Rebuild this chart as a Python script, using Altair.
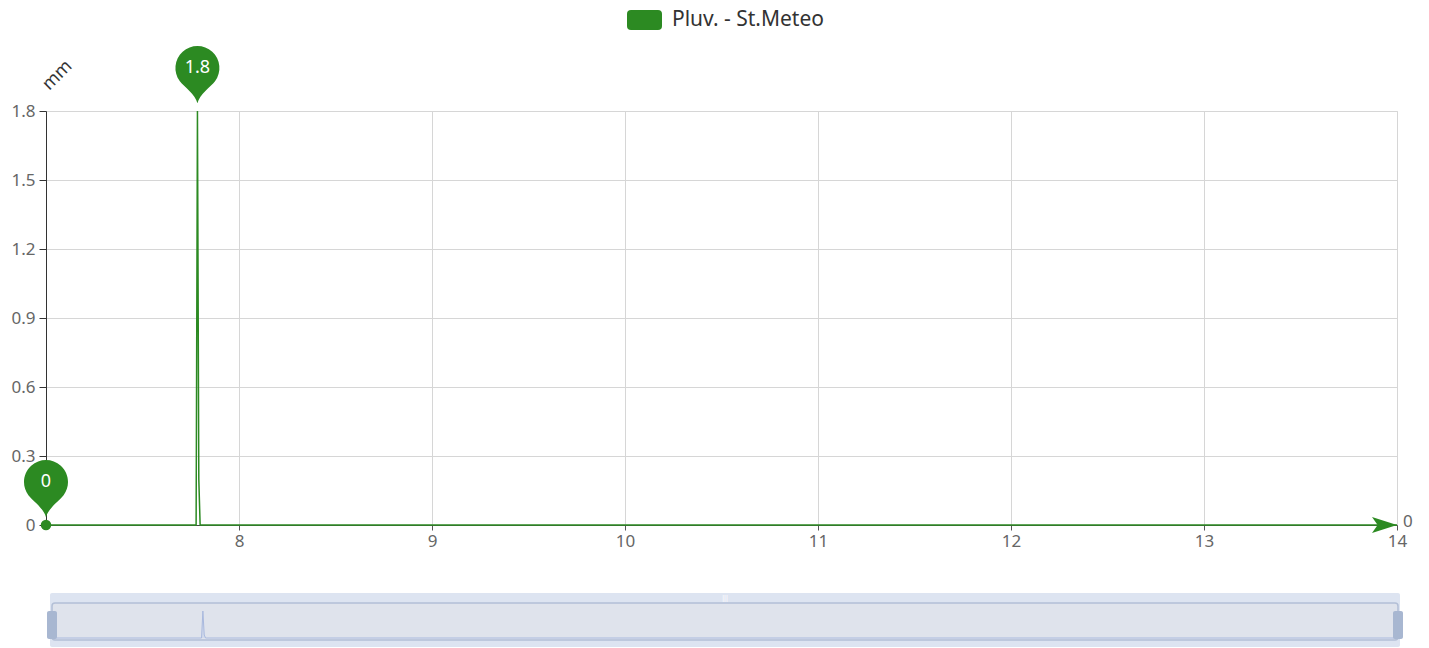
import altair as alt
import pandas as pd

# ---- data ----
times = [7.0, 7.7778, 7.7847, 7.7917, 7.7986, 14.0]
values = [0.0, 0.0, 1.8, 0.2, 0.0, 0.0]
series_name = "Pluv. - St.Meteo"
x_ticks = [8, 9, 10, 11, 12, 13, 14]
y_ticks = [0, 0.3, 0.6, 0.9, 1.2, 1.5, 1.8]
y_unit = "mm"

GREEN = "#2c8a22"
FONT = "Noto Sans"
W, H = 1351, 414

df = pd.DataFrame({"t": times, "v": values, "series": series_name})
imax = values.index(max(values))
pins = pd.DataFrame({
    "t": [times[imax], times[0]],
    "v": [values[imax], values[0]],
    "series": [series_name, series_name],
})
first = df.iloc[[0]]
last = df.iloc[[-1]]
one = pd.DataFrame({"a": [0]})

xs = alt.Scale(domain=[7, 14], nice=False, zero=False)
ys = alt.Scale(domain=[0, 1.8], nice=False, zero=False)

x_axis = alt.Axis(orient="bottom", values=x_ticks, grid=True, gridColor="#d6d6d6",
                  domainColor="#444", tickColor="#555", tickSize=5,
                  labelFontSize=17, labelColor="#666", labelPadding=3, labelFont=FONT,
                  labelFlush=False, labelOverlap=False, title=None)
y_axis = alt.Axis(orient="left", values=y_ticks, grid=True, gridColor="#d6d6d6",
                  domainColor="#333", tickColor="#333", tickSize=7,
                  labelFontSize=17, labelColor="#666", labelPadding=4, labelFont=FONT,
                  format="~g", title=y_unit, titleAngle=315, titleX=11, titleY=-36,
                  titleAlign="center", titleBaseline="middle", titleFontSize=18,
                  titleFontWeight="normal", titleColor="#333", titleFont=FONT)

X = alt.X("t:Q", scale=xs, axis=x_axis)
Y = alt.Y("v:Q", scale=ys, axis=y_axis)

rect_path = ("M-0.77,-0.571H0.77Q1,-0.571 1,-0.34V0.34Q1,0.571 0.77,0.571"
             "H-0.77Q-1,0.571 -1,0.34V-0.34Q-1,-0.571 -0.77,-0.571Z")
pin_path = "M0,1.6C-0.1,1.2 -0.6,0.85 -0.8,0.6A1,1 0 1,1 0.8,0.6C0.6,0.85 0.1,1.2 0,1.6Z"
arrow_path = "M1,0L-1,-0.64L-0.55,0L-1,0.64Z"

legend = alt.Legend(title=None, orient="none", legendX=581, legendY=-108.5,
                    direction="horizontal", symbolType=rect_path, symbolSize=1225,
                    symbolStrokeWidth=0, symbolFillColor=GREEN, symbolOpacity=1,
                    labelFontSize=21, labelColor="#333", labelFont=FONT,
                    labelOffset=10, labelLimit=400, padding=0)

line = alt.Chart(df).mark_line(color=GREEN, strokeWidth=1.5).encode(x=X, y=Y)

dot = alt.Chart(first).mark_circle(color=GREEN, size=110, opacity=1).encode(x=X, y=Y)

pin = alt.Chart(pins).mark_point(shape=pin_path, size=1936, filled=True, opacity=1,
                                 strokeWidth=0, yOffset=-43).encode(
    x=X, y=Y,
    color=alt.Color("series:N", scale=alt.Scale(domain=[series_name], range=[GREEN]),
                    legend=legend),
)
pin_text = alt.Chart(pins).mark_text(color="white", fontSize=18, font=FONT, dy=-43,
                                     align="center", baseline="middle").encode(
    x=X, y=Y, text=alt.Text("v:Q", format="~g"))

arrow = alt.Chart(last).mark_point(shape=arrow_path, size=625, filled=True, opacity=1,
                                   color=GREEN, strokeWidth=0, xOffset=-12.5).encode(x=X, y=Y)
end_label = alt.Chart(last).mark_text(align="left", baseline="middle", dx=6, dy=-3,
                                      fontSize=17, color="#666", font=FONT).encode(
    x=X, y=Y, text=alt.Text("v:Q", format="~g"))

main = alt.layer(line, dot, pin, pin_text, arrow, end_label)

# ---- data-zoom slider ----
outer = alt.Chart(one).mark_rect(fill="#dde4f1", cornerRadius=2).encode(
    x=alt.value(4), x2=alt.value(1354), y=alt.value(482), y2=alt.value(536))
inner = alt.Chart(one).mark_rect(fill="#dfe3ec", stroke="#b3bfd6", strokeWidth=1.5,
                                 cornerRadius=3).encode(
    x=alt.value(6), x2=alt.value(1352), y=alt.value(492), y2=alt.value(529))
sx = alt.Scale(domain=[7, 14], range=[6, 1352], nice=False, zero=False)
sy = alt.Scale(domain=[0, 1.8], range=[527, 500], nice=False, zero=False)
mini = alt.Chart(df).mark_area(color="#d3dbec", opacity=1,
                               line={"color": "#a9b9de", "strokeWidth": 1}).encode(
    x=alt.X("t:Q", scale=sx, axis=None), y=alt.Y("v:Q", scale=sy, axis=None))
h_left = alt.Chart(one).mark_rect(fill="#a8b7d1", cornerRadius=2).encode(
    x=alt.value(1), x2=alt.value(11), y=alt.value(500), y2=alt.value(528))
h_right = alt.Chart(one).mark_rect(fill="#a8b7d1", cornerRadius=2).encode(
    x=alt.value(1347), x2=alt.value(1357), y=alt.value(500), y2=alt.value(528))
grip = alt.Chart(one).mark_text(text="|||", fontSize=7, color="#ffffff",
                                align="center", baseline="middle").encode(
    x=alt.value(679), y=alt.value(487))

slider = alt.layer(outer, inner, mini, h_left, h_right, grip)

chart = alt.layer(main, slider).resolve_scale(
    x="independent", y="independent"
).properties(
    width=W, height=H,
    padding={"left": 38, "top": 103, "right": 24, "bottom": 123},
    autosize=alt.AutoSizeParams(type="none"),
).configure_view(stroke=None).configure(background="white")

chart.save("out.html", embed_options={"renderer": "svg", "actions": False})
